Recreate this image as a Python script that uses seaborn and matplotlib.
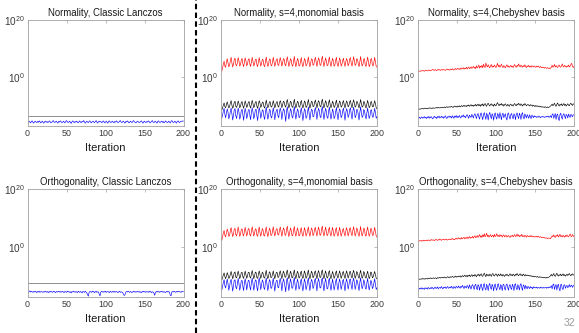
import numpy as np
import pandas as pd
import matplotlib
matplotlib.use("Agg")
import matplotlib.pyplot as plt
from matplotlib.lines import Line2D
from matplotlib.ticker import NullLocator, LogFormatterMathtext
import seaborn as sns

# ---------------------------------------------------------------------------
# Data: log10 of the measured loss of normality / orthogonality per iteration
# ---------------------------------------------------------------------------
ITERATIONS = list(range(1, 201))
CLASSIC_ENDS = [1, 200]

# Classic Lanczos
norm_classic_black = [-13.7, -13.7]
norm_classic_blue = [
    -15.9, -15.5, -15.8, -16.1, -15.6, -15.4, -15.9, -16.2, -15.7, -15.5, -15.8, -16.0, -15.6, -15.9, -15.4, -15.7, -16.1, -15.8, -15.5, -15.9,
    -16.2, -15.7, -15.5, -15.9, -15.6, -16.0, -15.8, -15.4, -15.7, -16.1, -15.9, -15.6, -15.3, -15.8, -16.0, -15.7, -15.5, -15.9, -16.2, -15.6,
    -15.8, -15.4, -15.7, -16.0, -15.9, -15.5, -15.8, -16.1, -15.6, -15.3, -15.7, -16.0, -15.8, -15.5, -15.9, -16.3, -15.7, -15.4, -15.8, -16.0,
    -15.6, -15.9, -15.5, -15.8, -16.1, -15.7, -15.4, -15.9, -16.0, -15.6, -15.8, -15.3, -15.7, -16.2, -15.9, -15.5, -15.8, -16.0, -15.6, -15.4,
    -15.9, -16.1, -15.7, -15.5, -15.8, -16.0, -15.6, -15.3, -15.9, -16.2, -15.7, -15.5, -15.8, -15.6, -16.0, -15.9, -15.4, -15.7, -16.1, -15.8,
    -15.5, -15.9, -16.2, -15.6, -15.4, -15.8, -16.0, -15.7, -15.5, -15.9, -16.1, -15.6, -15.8, -15.4, -15.7, -16.0, -15.9, -15.5, -15.3, -15.8,
    -16.0, -15.7, -15.5, -15.9, -16.2, -15.6, -15.8, -15.4, -15.7, -16.1, -15.9, -15.5, -15.8, -16.0, -15.6, -15.3, -15.7, -15.9, -16.1, -15.8,
    -15.5, -15.7, -16.0, -15.9, -15.6, -15.4, -15.8, -16.2, -15.7, -15.5, -15.9, -16.0, -15.6, -15.8, -15.4, -15.7, -16.1, -15.9, -15.6, -15.3,
    -15.8, -16.0, -15.7, -15.5, -15.9, -16.2, -15.6, -15.4, -15.8, -16.0, -15.7, -15.5, -15.9, -15.6, -16.1, -15.8, -15.4, -15.7, -16.0, -15.9,
    -15.5, -15.8, -16.1, -15.6, -15.3, -15.7, -16.0, -15.8, -15.5, -15.9, -16.2, -15.6, -15.4, -15.8, -16.0, -15.7, -15.5, -15.6, -15.4, -15.5,
]
orth_classic_black = [-12.4, -12.4]
orth_classic_blue = [
    -15.8, -15.3, -15.1, -15.5, -15.2, -15.4, -15.6, -15.3, -15.5, -15.2, -15.4, -15.7, -15.3, -15.5, -15.2, -15.6, -15.4, -15.3, -15.5, -15.6,
    -15.3, -15.5, -15.2, -15.4, -15.6, -15.3, -15.7, -15.4, -15.2, -15.5, -15.3, -15.6, -15.4, -15.2, -15.5, -15.7, -15.3, -15.5, -15.4, -15.2,
    -15.5, -15.3, -15.6, -15.4, -15.2, -15.5, -15.7, -15.3, -15.4, -15.6, -15.2, -15.5, -15.3, -15.6, -15.4, -15.8, -15.3, -15.5, -15.2, -15.4,
    -15.6, -15.3, -15.5, -15.7, -15.2, -15.4, -15.6, -15.3, -15.5, -15.8, -15.3, -15.4, -15.6, -15.2, -15.5, -15.7, -16.4, -16.9, -15.6, -15.3,
    -15.4, -15.6, -15.2, -15.5, -15.3, -15.7, -15.4, -15.2, -15.6, -15.4, -15.5, -16.3, -16.8, -15.5, -15.2, -15.4, -15.6, -15.3, -15.5, -15.2,
    -15.6, -15.4, -15.3, -15.5, -15.7, -15.2, -15.4, -15.6, -15.3, -15.5, -15.2, -15.6, -15.4, -15.3, -15.5, -15.7, -15.4, -15.2, -15.6, -15.4,
    -15.5, -15.7, -16.2, -16.7, -16.4, -15.6, -15.3, -15.5, -15.2, -15.4, -15.6, -15.3, -15.5, -15.7, -15.4, -15.2, -15.5, -15.3, -15.6, -15.4,
    -15.2, -15.5, -15.3, -15.6, -15.4, -15.7, -15.3, -15.5, -15.2, -15.4, -15.6, -15.3, -15.5, -15.4, -15.6, -15.2, -15.5, -15.3, -15.7, -15.4,
    -15.5, -15.8, -16.6, -15.7, -15.3, -15.5, -15.2, -15.4, -15.6, -15.3, -15.5, -15.2, -15.4, -15.6, -15.3, -15.5, -15.7, -15.4, -15.2, -15.5,
    -15.3, -15.6, -16.5, -16.8, -15.5, -15.3, -15.5, -15.2, -15.4, -15.6, -15.3, -15.5, -15.2, -15.4, -15.3, -15.5, -15.6, -15.2, -15.3, -15.4,
]

# s=4, monomial basis
norm_mono_red = [
    2.0, 3.1, 4.6, 5.5, 3.8, 3.4, 5.2, 6.4, 5.0, 3.6, 4.1, 5.8, 6.9, 4.9, 3.5, 4.4, 6.1, 6.6, 4.4, 3.9,
    5.0, 6.8, 5.7, 3.8, 4.3, 5.9, 6.5, 4.6, 3.6, 5.1, 6.7, 5.6, 3.9, 4.5, 6.2, 6.4, 4.5, 3.7, 5.3, 6.9,
    5.5, 3.9, 4.4, 6.1, 6.3, 4.3, 3.6, 5.4, 6.8, 5.2, 3.8, 4.7, 6.2, 6.0, 4.1, 3.6, 5.5, 7.0, 5.1, 3.7,
    4.4, 6.3, 6.2, 4.2, 3.9, 5.2, 6.9, 5.3, 3.7, 4.8, 6.1, 6.4, 4.3, 4.0, 5.7, 6.8, 5.5, 3.8, 4.9, 6.5,
    6.2, 4.4, 3.9, 5.8, 7.1, 5.3, 3.7, 4.6, 6.4, 6.0, 4.2, 3.8, 5.6, 7.2, 5.0, 3.6, 4.9, 6.5, 5.8, 3.9,
    3.9, 5.7, 6.8, 4.6, 3.6, 4.7, 6.5, 5.9, 3.9, 4.2, 5.6, 7.0, 5.0, 3.6, 5.0, 6.4, 6.1, 4.1, 4.3, 6.0,
    6.9, 5.2, 3.7, 5.2, 6.7, 6.0, 4.2, 4.1, 6.2, 7.3, 5.1, 3.7, 5.0, 6.7, 5.8, 4.0, 4.1, 5.9, 7.0, 4.8,
    3.7, 5.1, 6.6, 5.6, 3.8, 4.2, 5.9, 6.9, 4.5, 3.7, 4.9, 6.7, 5.8, 3.8, 4.4, 5.8, 6.6, 4.8, 3.7, 5.3,
    6.5, 5.7, 3.9, 4.6, 6.3, 6.8, 4.7, 3.8, 5.5, 7.1, 5.7, 4.0, 4.5, 6.4, 6.2, 4.6, 3.6, 5.3, 7.2, 5.1,
    3.9, 4.5, 6.3, 6.4, 4.0, 3.7, 5.4, 7.0, 5.3, 3.6, 4.3, 6.2, 6.5, 4.3, 3.9, 5.1, 6.9, 5.4, 3.7, 3.4,
]
norm_mono_black = [
    -11.6, -10.9, -9.8, -9.1, -10.4, -10.8, -9.6, -8.7, -9.8, -10.9, -10.4, -9.1, -8.3, -9.9, -11.0, -10.2, -8.9, -8.5, -10.3, -10.7,
    -9.7, -8.4, -9.3, -10.8, -10.3, -9.0, -8.6, -10.1, -11.0, -9.6, -8.4, -9.4, -10.7, -10.1, -8.9, -8.6, -10.2, -10.9, -9.4, -8.2,
    -9.3, -10.8, -10.2, -8.8, -8.6, -10.3, -11.0, -9.5, -8.3, -9.2, -10.7, -10.0, -8.8, -8.9, -10.4, -10.9, -9.4, -8.1, -9.6, -10.8,
    -10.3, -8.7, -8.7, -10.3, -10.6, -9.6, -8.3, -9.5, -10.9, -9.9, -8.9, -8.6, -10.2, -10.6, -9.1, -8.3, -9.3, -10.8, -9.8, -8.5,
    -8.8, -10.1, -10.6, -9.0, -7.9, -9.5, -10.9, -10.0, -8.5, -8.9, -10.4, -10.7, -9.2, -7.8, -9.6, -10.9, -9.8, -8.5, -8.9, -10.5,
    -10.6, -9.0, -8.2, -9.9, -10.9, -9.9, -8.4, -8.9, -10.7, -10.4, -9.2, -7.9, -9.6, -11.0, -9.7, -8.5, -8.8, -10.4, -10.3, -8.9,
    -8.1, -9.5, -10.9, -9.4, -8.3, -8.9, -10.3, -10.5, -8.7, -7.8, -9.7, -10.9, -9.7, -8.3, -9.0, -10.5, -10.6, -9.0, -8.0, -9.8,
    -10.8, -9.8, -8.5, -9.2, -10.7, -10.3, -9.1, -8.1, -9.9, -10.9, -9.7, -8.4, -9.0, -10.6, -10.2, -9.0, -8.3, -9.8, -10.9, -9.5,
    -8.4, -9.1, -10.5, -10.0, -8.7, -8.2, -9.9, -10.8, -9.2, -8.0, -9.1, -10.6, -10.1, -8.6, -8.7, -10.0, -10.9, -9.3, -7.9, -9.4,
    -10.6, -10.2, -8.6, -8.8, -10.3, -10.9, -9.5, -8.2, -9.6, -10.8, -10.3, -8.8, -8.6, -10.4, -10.5, -9.6, -8.3, -9.4, -10.8, -11.2,
]
norm_mono_blue = [
    -14.5, -13.4, -11.9, -11.0, -13.2, -14.3, -12.6, -11.2, -12.4, -14.7, -13.8, -12.0, -10.9, -12.9, -15.1, -13.5, -11.6, -11.1, -13.6, -14.6,
    -12.8, -10.9, -12.3, -14.8, -13.9, -11.8, -11.3, -13.4, -15.2, -12.7, -11.0, -12.4, -14.6, -13.5, -11.6, -11.4, -13.5, -15.0, -12.3, -10.8,
    -12.3, -14.7, -13.6, -11.5, -11.3, -13.7, -15.3, -12.4, -10.7, -12.2, -14.5, -13.2, -11.5, -11.8, -13.9, -14.9, -12.3, -10.6, -12.8, -14.8,
    -13.8, -11.4, -11.5, -13.9, -14.4, -12.6, -10.8, -12.6, -15.0, -13.1, -11.7, -11.3, -13.7, -14.3, -12.0, -10.9, -12.2, -14.9, -13.0, -11.1,
    -11.6, -13.4, -15.6, -11.9, -10.5, -12.6, -14.8, -13.3, -11.1, -11.8, -13.9, -14.4, -12.1, -10.4, -12.9, -14.8, -13.1, -11.2, -11.9, -14.2,
    -14.2, -12.0, -10.8, -13.2, -15.3, -13.2, -11.1, -11.8, -14.5, -14.0, -12.2, -10.5, -12.8, -15.1, -12.9, -11.3, -11.7, -14.0, -13.8, -11.8,
    -10.7, -12.6, -14.9, -12.6, -11.0, -11.8, -13.8, -14.3, -11.5, -10.4, -12.9, -14.9, -13.0, -11.0, -12.0, -14.1, -14.5, -11.9, -10.6, -13.1,
    -14.8, -13.2, -11.2, -12.3, -14.6, -13.9, -12.1, -10.7, -13.3, -15.0, -12.9, -11.2, -11.9, -14.3, -13.7, -11.9, -10.9, -13.1, -15.2, -12.6,
    -11.1, -12.0, -14.2, -13.4, -11.5, -10.8, -13.2, -14.8, -12.2, -10.6, -12.0, -14.3, -13.6, -11.4, -11.5, -13.3, -15.1, -12.4, -10.5, -12.6,
    -14.2, -13.7, -11.4, -11.8, -13.8, -14.7, -12.6, -10.9, -12.9, -14.6, -13.6, -11.7, -11.5, -14.0, -14.1, -12.7, -11.0, -12.6, -14.5, -13.9,
]
orth_mono_red = [
    2.3, 3.4, 4.9, 5.7, 4.0, 3.5, 5.0, 6.2, 5.3, 3.7, 4.0, 5.7, 6.7, 5.0, 3.6, 4.5, 6.2, 6.4, 4.3, 3.8,
    5.2, 6.9, 5.5, 3.7, 4.4, 6.0, 6.3, 4.5, 3.8, 5.3, 6.8, 5.4, 3.8, 4.7, 6.4, 6.2, 4.3, 3.8, 5.5, 7.0,
    5.3, 3.8, 4.6, 6.3, 6.1, 4.1, 3.7, 5.6, 6.9, 5.0, 3.7, 4.9, 6.4, 5.8, 3.9, 3.8, 5.7, 6.9, 4.9, 3.6,
    4.6, 6.5, 6.0, 4.0, 4.1, 5.4, 7.0, 5.1, 3.8, 5.0, 6.3, 6.2, 4.2, 4.2, 5.9, 6.9, 5.3, 3.7, 5.1, 6.6,
    6.0, 4.2, 4.0, 6.0, 7.2, 5.1, 3.6, 4.8, 6.6, 5.8, 4.0, 3.9, 5.8, 7.1, 4.8, 3.7, 5.1, 6.6, 5.6, 3.8,
    4.1, 5.9, 6.7, 4.4, 3.7, 4.9, 6.7, 5.7, 3.8, 4.4, 5.8, 6.9, 4.8, 3.7, 5.2, 6.6, 5.9, 3.9, 4.5, 6.2,
    6.8, 5.0, 3.8, 5.4, 6.9, 5.8, 4.0, 4.3, 6.4, 7.2, 4.9, 3.8, 5.2, 6.9, 5.6, 3.9, 4.3, 6.1, 6.8, 4.6,
    3.8, 5.3, 6.8, 5.4, 3.7, 4.4, 6.1, 6.7, 4.3, 3.8, 5.1, 6.8, 5.6, 3.7, 4.6, 6.0, 6.4, 4.6, 3.8, 5.5,
    6.7, 5.5, 3.8, 4.8, 6.5, 6.6, 4.5, 3.9, 5.7, 7.0, 5.5, 3.8, 4.7, 6.6, 6.0, 4.4, 3.7, 5.5, 7.1, 4.9,
    3.8, 4.7, 6.5, 6.2, 3.9, 3.8, 5.6, 6.9, 5.1, 3.7, 4.5, 6.4, 6.3, 4.1, 4.0, 5.3, 6.8, 5.2, 3.8, 3.4,
]
orth_mono_black = [
    -11.3, -10.6, -9.5, -8.9, -10.2, -10.9, -9.8, -8.8, -9.6, -10.8, -10.5, -9.2, -8.4, -9.7, -10.9, -10.0, -8.8, -8.6, -10.4, -10.6,
    -9.5, -8.3, -9.4, -10.9, -10.1, -8.8, -8.7, -10.2, -10.8, -9.4, -8.3, -9.5, -10.8, -9.9, -8.7, -8.7, -10.3, -10.7, -9.2, -8.1,
    -9.4, -10.9, -10.0, -8.6, -8.8, -10.5, -10.8, -9.3, -8.2, -9.4, -10.8, -9.8, -8.6, -9.1, -10.5, -10.7, -9.2, -8.0, -9.8, -10.9,
    -10.1, -8.5, -8.9, -10.5, -10.4, -9.4, -8.2, -9.7, -10.9, -9.7, -8.7, -8.8, -10.4, -10.4, -8.9, -8.2, -9.5, -10.9, -9.6, -8.3,
    -9.0, -10.3, -10.4, -8.8, -7.9, -9.7, -10.9, -9.8, -8.3, -9.1, -10.6, -10.5, -9.0, -7.9, -9.8, -10.9, -9.6, -8.3, -9.1, -10.7,
    -10.4, -8.8, -8.3, -10.1, -10.8, -9.7, -8.2, -9.1, -10.8, -10.2, -9.0, -7.9, -9.8, -10.9, -9.5, -8.3, -9.0, -10.6, -10.1, -8.7,
    -8.2, -9.7, -10.9, -9.2, -8.1, -9.1, -10.5, -10.3, -8.5, -7.9, -9.9, -10.9, -9.5, -8.2, -9.2, -10.7, -10.4, -8.8, -8.1, -10.0,
    -10.9, -9.6, -8.4, -9.4, -10.8, -10.1, -8.9, -8.2, -10.1, -10.7, -9.5, -8.2, -9.2, -10.8, -10.0, -8.8, -8.4, -10.0, -10.8, -9.3,
    -8.2, -9.3, -10.7, -9.8, -8.5, -8.4, -10.1, -10.7, -9.0, -8.0, -9.3, -10.8, -9.9, -8.4, -8.9, -10.2, -10.8, -9.1, -8.0, -9.6,
    -10.8, -10.0, -8.4, -9.0, -10.5, -10.7, -9.3, -8.3, -9.8, -10.9, -10.1, -8.6, -8.8, -10.6, -10.3, -9.4, -8.4, -9.6, -10.7, -11.0,
]
orth_mono_blue = [
    -14.8, -13.6, -12.1, -11.2, -13.4, -14.1, -12.4, -11.0, -12.6, -14.9, -13.6, -11.8, -11.1, -13.1, -15.2, -13.2, -11.4, -11.3, -13.8, -14.4,
    -12.5, -10.8, -12.5, -14.9, -13.6, -11.6, -11.5, -13.6, -15.0, -12.4, -10.9, -12.6, -14.8, -13.2, -11.4, -11.6, -13.7, -14.8, -12.0, -10.7,
    -12.6, -14.9, -13.3, -11.3, -11.5, -13.9, -15.1, -12.1, -10.6, -12.5, -14.7, -12.9, -11.3, -12.0, -14.1, -14.6, -12.0, -10.7, -13.0, -15.0,
    -13.5, -11.2, -11.7, -14.1, -14.2, -12.3, -10.7, -12.8, -15.2, -12.8, -11.5, -11.5, -13.9, -14.0, -11.8, -10.8, -12.5, -15.1, -12.7, -10.9,
    -11.9, -13.7, -15.4, -11.7, -10.6, -12.9, -15.0, -13.0, -10.9, -12.1, -14.2, -14.1, -11.8, -10.5, -13.2, -14.9, -12.8, -11.0, -12.2, -14.5,
    -14.0, -11.8, -10.9, -13.5, -15.1, -13.0, -10.9, -12.1, -14.7, -13.7, -11.9, -10.6, -13.1, -15.0, -12.6, -11.1, -11.9, -14.3, -13.5, -11.5,
    -10.8, -12.9, -15.1, -12.3, -10.8, -12.1, -14.1, -14.0, -11.3, -10.6, -13.2, -15.1, -12.7, -10.8, -12.3, -14.4, -14.2, -11.6, -10.7, -13.4,
    -14.9, -12.9, -11.0, -12.6, -14.8, -13.6, -11.8, -10.8, -13.6, -14.8, -12.6, -11.0, -12.2, -14.6, -13.4, -11.6, -11.1, -13.4, -15.1, -12.3,
    -10.9, -12.3, -14.5, -13.1, -11.2, -11.0, -13.5, -14.6, -11.9, -10.7, -12.3, -14.6, -13.3, -11.2, -11.8, -13.6, -15.0, -12.1, -10.6, -12.9,
    -14.4, -13.4, -11.2, -12.1, -14.1, -14.5, -12.3, -10.8, -13.2, -14.8, -13.3, -11.5, -11.8, -14.3, -13.8, -12.4, -10.9, -12.9, -14.6, -14.0,
]

# s=4, Chebyshev basis
norm_cheb_red = [
    1.9, 2.1, 2.0, 2.2, 2.1, 2.3, 2.2, 2.0, 2.2, 2.4, 2.3, 2.1, 2.3, 2.5, 2.2, 2.4, 2.3, 2.5, 2.7, 2.4,
    2.3, 2.6, 2.4, 2.2, 2.5, 2.7, 2.4, 2.6, 2.3, 2.5, 2.7, 2.4, 2.6, 2.5, 2.3, 2.6, 2.8, 2.5, 2.7, 2.4,
    2.6, 2.8, 2.5, 2.9, 2.6, 2.4, 2.7, 3.0, 2.6, 2.8, 3.1, 2.7, 2.9, 2.6, 3.2, 2.8, 3.0, 3.3, 2.7, 3.1,
    2.9, 3.4, 2.8, 3.2, 3.5, 2.9, 3.1, 3.6, 3.0, 3.3, 3.7, 3.1, 3.5, 2.9, 3.9, 3.2, 3.6, 4.2, 3.1, 3.8,
    3.4, 4.1, 3.2, 4.5, 3.7, 3.3, 4.9, 4.0, 3.5, 4.3, 3.6, 3.2, 4.0, 4.4, 3.4, 3.9, 3.5, 4.2, 3.7, 3.3,
    4.1, 4.8, 3.6, 4.2, 3.4, 3.9, 4.5, 3.7, 3.3, 4.0, 3.6, 3.2, 3.8, 4.3, 3.5, 3.9, 3.4, 3.7, 4.1, 3.5,
    3.8, 3.3, 4.0, 4.4, 3.6, 3.4, 4.1, 3.7, 4.6, 3.9, 3.5, 4.2, 3.8, 3.4, 4.0, 3.6, 4.3, 3.7, 3.3, 3.9,
    3.6, 4.1, 3.5, 3.8, 3.4, 4.0, 3.7, 3.5, 3.9, 3.6, 3.4, 3.8, 3.5, 3.9, 3.6, 3.3, 3.7, 3.4, 3.2, 3.5,
    3.3, 3.1, 3.4, 3.2, 3.0, 3.3, 3.1, 2.9, 3.2, 3.0, 3.5, 4.1, 3.4, 3.8, 4.4, 3.5, 4.0, 3.6, 3.3, 3.9,
    4.2, 3.6, 3.4, 4.0, 4.6, 3.7, 3.5, 4.1, 3.8, 3.4, 3.9, 3.6, 4.2, 3.5, 3.8, 4.4, 4.8, 3.8, 3.3, 3.7,
]
norm_cheb_black = [
    -11.4, -11.2, -11.3, -11.1, -11.2, -11.0, -11.2, -11.1, -10.9, -11.1, -11.0, -11.2, -10.9, -11.0, -10.8, -11.0, -10.9, -11.1, -10.8, -10.9,
    -11.0, -10.8, -10.9, -10.7, -10.9, -10.6, -10.8, -10.9, -10.7, -10.8, -10.6, -10.8, -10.7, -10.5, -10.8, -10.6, -10.4, -10.7, -10.5, -10.6,
    -10.4, -10.6, -10.3, -10.5, -10.7, -10.4, -10.2, -10.5, -10.3, -10.6, -10.2, -10.4, -10.1, -10.5, -10.3, -10.0, -10.4, -10.2, -9.9, -10.3,
    -10.1, -10.4, -9.9, -10.2, -9.8, -10.3, -10.0, -9.7, -10.2, -9.9, -10.3, -9.8, -10.1, -9.6, -10.2, -9.9, -9.5, -10.1, -9.7, -10.3,
    -9.6, -10.0, -9.4, -10.2, -9.7, -9.3, -9.9, -10.3, -9.5, -9.2, -9.8, -10.2, -9.6, -9.4, -10.0, -9.7, -10.3, -9.5, -9.9, -10.1,
    -9.4, -9.0, -9.7, -10.1, -9.5, -9.8, -9.3, -10.0, -9.6, -10.2, -9.7, -9.4, -9.9, -10.2, -9.6, -9.9, -10.3, -9.7, -9.5, -10.0,
    -9.8, -10.2, -9.6, -9.3, -9.9, -10.1, -9.5, -9.8, -9.2, -9.7, -10.0, -9.4, -9.8, -10.2, -9.6, -9.9, -9.3, -9.7, -10.1, -9.8,
    -9.6, -9.9, -10.2, -9.7, -10.0, -9.8, -10.3, -9.9, -10.1, -10.4, -10.0, -10.3, -10.1, -10.4, -10.2, -10.5, -10.3, -10.6, -10.4, -10.6,
    -10.5, -10.7, -10.4, -10.6, -10.8, -10.5, -10.7, -10.6, -10.4, -10.2, -9.9, -9.5, -10.1, -9.7, -9.2, -9.9, -10.3, -9.6, -9.1, -9.8,
    -10.2, -9.6, -9.9, -9.4, -10.1, -9.7, -9.3, -10.0, -9.6, -10.2, -9.8, -9.4, -9.9, -10.1, -9.5, -9.2, -9.7, -10.0, -9.4, -9.6,
]
norm_cheb_blue = [
    -14.4, -14.1, -14.6, -14.2, -14.0, -14.5, -14.3, -13.9, -14.4, -14.1, -14.6, -14.0, -14.3, -13.8, -14.5, -14.2, -13.9, -14.4, -14.7, -14.1,
    -13.8, -14.3, -14.0, -14.6, -13.9, -14.2, -13.7, -14.4, -14.1, -13.8, -14.3, -13.9, -14.5, -14.0, -13.6, -14.2, -14.6, -13.9, -14.1, -13.7,
    -14.2, -13.8, -14.4, -13.6, -14.0, -14.5, -13.7, -14.1, -13.5, -14.3, -13.8, -14.2, -13.5, -14.0, -14.4, -13.6, -13.9, -13.3, -14.1, -13.7,
    -14.3, -13.6, -13.2, -13.9, -14.5, -13.4, -13.8, -14.2, -13.1, -13.7, -14.4, -13.3, -12.9, -13.8, -14.6, -13.2, -12.8, -14.0, -14.8, -13.0,
    -12.6, -13.9, -15.0, -13.1, -12.5, -13.8, -14.9, -12.7, -13.4, -15.1, -13.2, -12.4, -13.7, -14.7, -12.9, -13.5, -15.2, -13.0, -12.6, -14.1,
    -14.8, -12.8, -13.3, -14.6, -12.5, -13.6, -15.0, -13.1, -12.7, -14.3, -13.5, -12.9, -14.4, -15.1, -13.0, -12.6, -13.9, -14.8, -13.2, -12.8,
    -14.0, -14.7, -12.9, -13.4, -15.0, -13.1, -12.6, -13.8, -14.6, -12.7, -13.5, -14.9, -13.0, -12.5, -14.2, -14.7, -12.9, -13.6, -14.4, -13.2,
    -13.8, -14.5, -13.3, -13.9, -14.6, -13.4, -13.7, -14.3, -13.6, -14.0, -13.8, -14.2, -13.9, -14.1, -13.7, -14.0, -14.3, -13.9, -14.1, -13.8,
    -14.0, -14.2, -13.9, -14.1, -13.8, -14.0, -13.7, -14.2, -13.9, -13.6, -14.3, -13.2, -12.9, -14.5, -13.6, -12.8, -14.9, -13.4, -13.0, -14.7,
    -15.3, -13.2, -12.7, -14.1, -14.8, -13.3, -12.9, -13.8, -14.6, -13.1, -13.5, -14.4, -13.0, -13.7, -14.2, -13.1, -13.4, -14.0, -13.3, -13.2,
]
orth_cheb_red = [
    2.0, 2.2, 2.1, 2.3, 2.0, 2.2, 2.4, 2.1, 2.3, 2.2, 2.4, 2.2, 2.5, 2.3, 2.1, 2.4, 2.6, 2.3, 2.5, 2.4,
    2.2, 2.5, 2.7, 2.4, 2.3, 2.6, 2.4, 2.8, 2.5, 2.3, 2.6, 2.5, 2.7, 2.4, 2.6, 2.8, 2.5, 2.4, 2.7, 2.6,
    2.8, 2.5, 2.7, 3.0, 2.6, 2.8, 2.5, 2.9, 3.1, 2.7, 2.9, 3.2, 2.8, 3.0, 2.7, 3.3, 2.9, 3.1, 3.4, 2.8,
    3.2, 3.0, 3.5, 2.9, 3.3, 3.6, 3.0, 3.4, 3.2, 3.7, 3.1, 3.6, 3.9, 3.2, 3.5, 4.0, 3.3, 3.8, 4.3, 3.4,
    3.9, 3.3, 4.2, 3.6, 4.6, 3.5, 4.0, 4.8, 3.6, 4.1, 3.4, 3.9, 4.3, 3.5, 3.8, 4.1, 3.4, 4.4, 3.6, 3.9,
    4.6, 3.7, 4.0, 3.5, 4.3, 3.8, 4.1, 3.4, 3.9, 4.2, 3.5, 3.8, 4.1, 3.4, 3.7, 4.0, 3.6, 3.3, 3.9, 3.7,
    4.1, 3.5, 3.9, 4.3, 3.6, 3.8, 4.5, 3.7, 4.2, 3.6, 4.0, 3.7, 4.4, 3.6, 3.9, 3.5, 4.1, 3.8, 3.4, 4.0,
    3.7, 3.5, 3.9, 3.6, 4.0, 3.5, 3.8, 3.6, 3.4, 3.7, 3.5, 3.7, 3.4, 3.8, 3.5, 3.3, 3.6, 3.4, 3.2, 3.4,
    3.2, 3.3, 3.0, 3.2, 3.1, 2.9, 3.2, 3.0, 3.1, 2.9, 3.4, 3.9, 3.5, 4.2, 3.6, 3.3, 4.0, 3.7, 4.3, 3.5,
    3.8, 4.4, 3.6, 3.9, 3.5, 4.1, 3.7, 3.4, 4.0, 3.6, 4.2, 3.7, 3.5, 4.0, 4.5, 3.8, 3.6, 4.3, 3.9, 3.5,
]
orth_cheb_black = [
    -11.2, -11.0, -11.1, -10.9, -11.1, -10.8, -11.0, -10.9, -11.1, -10.8, -10.9, -11.0, -10.7, -10.9, -10.8, -10.6, -10.9, -10.7, -10.8, -10.6,
    -10.8, -10.6, -10.7, -10.9, -10.5, -10.7, -10.6, -10.4, -10.7, -10.5, -10.6, -10.4, -10.6, -10.3, -10.5, -10.7, -10.4, -10.2, -10.5, -10.3,
    -10.5, -10.2, -10.4, -10.1, -10.3, -10.5, -10.2, -10.0, -10.4, -10.1, -10.3, -10.0, -10.2, -9.9, -10.4, -10.1, -9.8, -10.2, -10.0, -9.7,
    -10.1, -9.8, -10.3, -9.7, -10.0, -9.6, -10.2, -9.8, -9.5, -10.1, -9.7, -10.0, -9.4, -9.9, -10.2, -9.5, -9.8, -9.3, -10.0, -9.6,
    -9.2, -9.9, -10.1, -9.4, -9.0, -9.7, -10.2, -9.3, -9.8, -9.5, -10.0, -9.3, -9.6, -10.1, -9.4, -9.1, -9.8, -10.0, -9.5, -9.2,
    -9.7, -10.1, -9.3, -9.6, -9.9, -9.2, -9.7, -10.0, -9.4, -9.8, -10.1, -9.5, -9.8, -9.3, -9.7, -10.0, -9.6, -9.2, -9.8, -9.5,
    -9.9, -9.3, -9.6, -10.0, -9.4, -9.7, -9.1, -9.6, -9.9, -9.4, -9.2, -9.8, -9.5, -9.9, -9.3, -9.6, -10.0, -9.5, -9.8, -9.6,
    -9.9, -9.7, -10.0, -9.8, -10.1, -9.9, -10.2, -10.0, -10.3, -10.1, -10.2, -10.4, -10.1, -10.3, -10.5, -10.2, -10.4, -10.3, -10.5, -10.4,
    -10.6, -10.4, -10.5, -10.7, -10.4, -10.6, -10.5, -10.3, -10.1, -9.8, -9.4, -10.0, -9.6, -9.1, -9.8, -10.1, -9.5, -9.0, -9.7, -10.0,
    -9.5, -9.8, -9.3, -9.9, -9.6, -9.2, -9.9, -9.5, -10.0, -9.7, -9.3, -9.8, -9.5, -9.1, -9.6, -9.9, -9.4, -9.2, -9.7, -9.5,
]
orth_cheb_blue = [
    -14.6, -14.2, -14.4, -14.0, -14.5, -14.1, -14.3, -14.6, -14.0, -14.3, -14.1, -14.5, -13.9, -14.2, -14.4, -14.0, -14.3, -13.8, -14.2, -14.5,
    -14.0, -13.8, -14.3, -14.1, -13.7, -14.4, -14.0, -13.9, -14.2, -13.6, -14.1, -14.4, -13.8, -14.0, -13.7, -14.3, -13.9, -13.6, -14.2, -14.0,
    -13.7, -14.1, -13.5, -14.0, -14.3, -13.6, -13.9, -14.2, -13.5, -13.8, -14.1, -13.4, -13.8, -14.2, -13.5, -13.9, -13.2, -13.7, -14.3, -13.4,
    -13.8, -14.1, -13.2, -13.6, -14.3, -13.0, -13.7, -14.5, -13.3, -12.9, -13.8, -14.6, -13.1, -12.8, -14.2, -14.7, -12.9, -13.5, -14.9, -13.2,
    -12.7, -14.1, -15.0, -12.9, -12.6, -14.3, -14.8, -12.8, -13.6, -15.0, -13.1, -12.5, -14.0, -14.6, -12.8, -13.4, -15.1, -13.2, -12.7, -14.2,
    -14.9, -13.0, -12.6, -14.0, -14.7, -12.9, -13.5, -15.0, -13.0, -12.8, -14.3, -14.8, -13.1, -12.7, -13.9, -14.9, -13.3, -12.9, -14.1, -14.6,
    -12.8, -13.5, -15.0, -13.0, -12.6, -14.2, -14.7, -12.9, -13.7, -14.8, -13.1, -12.6, -14.0, -14.9, -13.0, -13.4, -14.5, -13.2, -13.9, -14.4,
    -13.5, -13.9, -14.3, -13.6, -14.1, -13.8, -14.4, -13.7, -14.0, -13.9, -14.1, -13.8, -14.2, -13.9, -14.0, -14.2, -13.8, -14.1, -13.9, -14.2,
    -13.9, -14.1, -14.0, -13.8, -14.2, -13.9, -14.1, -13.7, -14.0, -13.8, -13.3, -14.4, -13.0, -12.7, -14.6, -13.5, -12.9, -14.8, -13.3, -12.8,
    -14.3, -15.1, -13.0, -12.8, -14.4, -14.6, -13.1, -13.0, -14.2, -13.5, -13.2, -14.0, -13.6, -12.9, -13.8, -13.3, -13.1, -13.9, -13.4, -13.1,
]

TITLES = [
    "Normality, Classic Lanczos", "Normality, s=4,monomial basis", "Normality, s=4,Chebyshev basis",
    "Orthogonality, Classic Lanczos", "Orthogonality, s=4,monomial basis", "Orthogonality, s=4,Chebyshev basis",
]
X_TICKS = [0, 50, 100, 150, 200]
Y_TICKS = [1e0, 1e20]
PAGE_NUMBER = "32"

# ---------------------------------------------------------------------------
# Styling
# ---------------------------------------------------------------------------
sns.set_theme(style="white")
plt.rcParams["font.family"] = ["Liberation Sans", "DejaVu Sans"]
plt.rcParams["mathtext.fontset"] = "custom"
plt.rcParams["mathtext.rm"] = "Liberation Sans"
plt.rcParams["mathtext.it"] = "Liberation Sans:italic"
plt.rcParams["mathtext.bf"] = "Liberation Sans:bold"

PALETTE = {"red": "#ff0000", "black": "#000000", "blue": "#0000ff"}
CLASSIC_PALETTE = {"black": "#505050", "blue": "#0000ff"}
SPINE = "#a0a0a0"
TICK_TXT = "#3a3a3a"


def long_frame(series):
    rows = []
    for name, (xs, ys) in series.items():
        rows.append(pd.DataFrame({"Iteration": xs, "value": np.power(10.0, ys), "series": name}))
    return pd.concat(rows, ignore_index=True)


panels = [
    {"black": (CLASSIC_ENDS, norm_classic_black), "blue": (ITERATIONS, norm_classic_blue)},
    {"red": (ITERATIONS, norm_mono_red), "black": (ITERATIONS, norm_mono_black), "blue": (ITERATIONS, norm_mono_blue)},
    {"red": (ITERATIONS, norm_cheb_red), "black": (ITERATIONS, norm_cheb_black), "blue": (ITERATIONS, norm_cheb_blue)},
    {"black": (CLASSIC_ENDS, orth_classic_black), "blue": (ITERATIONS, orth_classic_blue)},
    {"red": (ITERATIONS, orth_mono_red), "black": (ITERATIONS, orth_mono_black), "blue": (ITERATIONS, orth_mono_blue)},
    {"red": (ITERATIONS, orth_cheb_red), "black": (ITERATIONS, orth_cheb_black), "blue": (ITERATIONS, orth_cheb_blue)},
]

W, H = 579, 333
fig = plt.figure(figsize=(W / 100, H / 100), dpi=100)

col_left = [27.5, 221, 418]
ax_w = 156
row_box = [(20, 126), (189, 297)]

for i, (title, series) in enumerate(zip(TITLES, panels)):
    r, c = divmod(i, 3)
    top, bottom = row_box[r]
    ax = fig.add_axes([col_left[c] / W, 1 - bottom / H, ax_w / W, (bottom - top) / H])
    df = long_frame(series)
    base = CLASSIC_PALETTE if c == 0 else PALETTE
    pal = {k: base[k] for k in series}
    sns.lineplot(data=df, x="Iteration", y="value", hue="series", palette=pal,
                 estimator=None, errorbar=None, linewidth=0.45, legend=False,
                 sort=False, ax=ax)
    ax.set_yscale("log")
    ax.set_xlim(0, 200)
    ax.set_ylim(10 ** -17.2, 1e20)
    ax.set_xticks(X_TICKS)
    ax.set_yticks(Y_TICKS)
    ax.yaxis.set_major_formatter(LogFormatterMathtext())
    ax.yaxis.set_minor_locator(NullLocator())
    ax.xaxis.set_minor_locator(NullLocator())
    ax.tick_params(direction="in", length=2.5, width=0.5, top=True, right=True,
                   labelsize=6.4, colors=SPINE, labelcolor=TICK_TXT, pad=2.5)
    ax.tick_params(axis="y", labelsize=7.2, pad=2)
    for sp in ax.spines.values():
        sp.set_color(SPINE)
        sp.set_linewidth(0.6)
    ax.set_ylabel("")
    ax.set_xlabel("Iteration", fontsize=8, color="#1a1a1a", labelpad=3.5)
    ax.set_title(title, fontsize=6.9, color="#1a1a1a", pad=3)

# vertical dashed separator
fig.add_artist(Line2D([196 / W, 196 / W], [0, 1], transform=fig.transFigure,
                      color="black", linewidth=1.5, linestyle=(0, (2.6, 1.6))))

fig.text(569 / W, 1 - 323 / H, PAGE_NUMBER, ha="center", va="center",
         fontsize=7.5, color="#9a9a9a")

fig.savefig("out.png", dpi=100)
